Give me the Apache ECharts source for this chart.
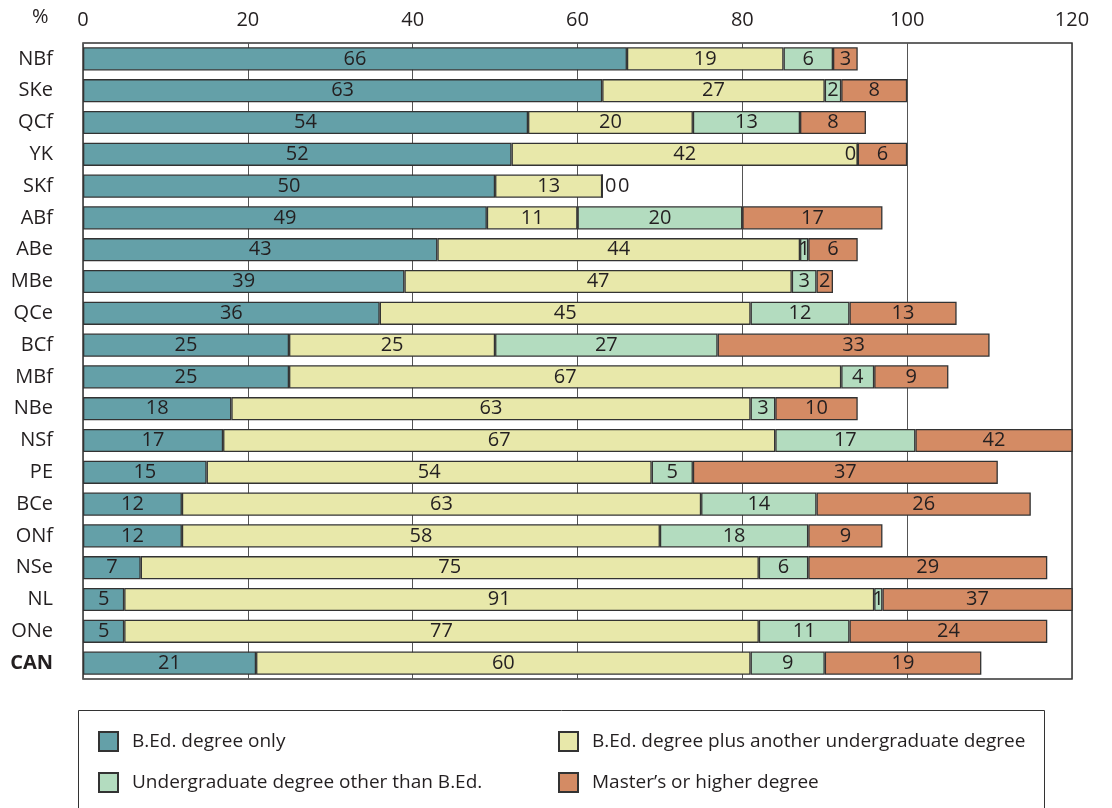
<!doctype html>
<html>
<head>
  <meta charset="utf-8">
  <script src="https://cdn.jsdelivr.net/npm/echarts@6/dist/echarts.min.js"></script>
  <style>
    html, body { margin: 0; width: 100%; height: 100%; background: #fff; }
    #main { width: 1112px; height: 808px; }
  </style>
</head>
<body>
  <div id="main"></div>
  <script>
    // categories, top to bottom
    var regions = ['NBf', 'SKe', 'QCf', 'YK', 'SKf', 'ABf', 'ABe', 'MBe', 'QCe', 'BCf',
      'MBf', 'NBe', 'NSf', 'PE', 'BCe', 'ONf', 'NSe', 'NL', 'ONe', 'CAN'];
    var bedOnly = [66, 63, 54, 52, 50, 49, 43, 39, 36, 25, 25, 18, 17, 15, 12, 12, 7, 5, 5, 21];
    var bedPlus = [19, 27, 20, 42, 13, 11, 44, 47, 45, 25, 67, 63, 67, 54, 63, 58, 75, 91, 77, 60];
    var ugOther = [6, 2, 13, 0, 0, 20, 1, 3, 12, 27, 4, 3, 17, 5, 14, 18, 6, 1, 11, 9];
    var masters = [3, 8, 8, 6, 0, 17, 6, 2, 13, 33, 9, 10, 42, 37, 26, 9, 29, 37, 24, 19];
    var xTicks = [0, 20, 40, 60, 80, 100, 120];

    var names = ['B.Ed. degree only', 'B.Ed. degree plus another undergraduate degree',
      'Undergraduate degree other than B.Ed.', 'Master\u2019s or higher degree'];
    var colors = ['#64a0a8', '#e8e8aa', '#b3dcbf', '#d48b64'];

    var font = 'Open Sans';
    var fs = 20;
    var ink = '#231f20';

    // zero-width segments: move their labels off the seam like the print does
    function items(arr, key) {
      return arr.map(function (v, i) {
        if (v !== 0) return v;
        var lab;
        if (regions[i] === 'YK') lab = { position: 'left', distance: 1 };
        else if (key === 'ug') lab = { position: 'right', distance: 2 };
        else lab = { position: 'right', distance: 15 };
        return { value: v, label: lab };
      });
    }

    function makeSeries(name, data, color) {
      return {
        type: 'bar',
        name: name,
        stack: 'all',
        barCategoryGap: '27%',
        data: data,
        clip: true,
        itemStyle: { color: color, borderColor: '#333', borderWidth: 1.3 },
        label: {
          show: true,
          position: 'inside',
          color: ink,
          fontFamily: font,
          fontSize: fs
        },
        emphasis: { disabled: true },
        animation: false
      };
    }

    var legendBase = {
      orient: 'vertical',
      top: 731,
      padding: 0,
      icon: 'rect', itemWidth: 19, itemHeight: 19, itemGap: 20,
      selectedMode: false,
      textStyle: { color: ink, fontSize: 19, fontFamily: font, padding: [0, 0, 0, 9] }
    };

    var chart = echarts.init(document.getElementById('main'));
    chart.setOption({
      backgroundColor: '#fff',
      textStyle: { fontFamily: font },
      grid: {
        left: 83, right: 40, top: 43, bottom: 129,
        show: true, borderColor: '#333', borderWidth: 1.5, backgroundColor: 'transparent'
      },
      xAxis: {
        type: 'value',
        position: 'top',
        min: 0, max: 120, interval: 20,
        axisLine: { show: false },
        axisTick: { show: false },
        axisLabel: {
          margin: 13, color: ink, fontSize: fs, fontFamily: font,
          formatter: function (v) { return xTicks.indexOf(v) >= 0 ? String(v) : ''; }
        },
        splitLine: { show: true, lineStyle: { color: '#555', width: 1 } }
      },
      yAxis: {
        type: 'category',
        inverse: true,
        data: regions,
        axisLine: { show: false },
        axisTick: { show: false },
        axisLabel: {
          margin: 30, color: ink, fontSize: fs, fontFamily: font,
          formatter: function (v) { return v === 'CAN' ? '{b|' + v + '}' : v; },
          rich: { b: { fontWeight: 'bold', fontSize: fs, fontFamily: font, color: ink } }
        }
      },
      legend: [
        Object.assign({}, legendBase, { data: [names[0], names[2]], left: 98 }),
        Object.assign({}, legendBase, { data: [names[1], names[3]], left: 558 })
      ],
      graphic: [
        {
          type: 'text', left: 32, top: 7,
          style: { text: '%', fill: ink, font: '20px "Open Sans"' }
        },
        {
          type: 'rect', silent: true, z: -1,
          shape: { x: 78.5, y: 710.5, width: 966, height: 110 },
          style: { fill: 'none', stroke: '#333', lineWidth: 1 }
        }
      ],
      series: [
        makeSeries(names[0], bedOnly, colors[0]),
        makeSeries(names[1], bedPlus, colors[1]),
        makeSeries(names[2], items(ugOther, 'ug'), colors[2]),
        makeSeries(names[3], items(masters, 'ms'), colors[3])
      ]
    });
  </script>
</body>
</html>
